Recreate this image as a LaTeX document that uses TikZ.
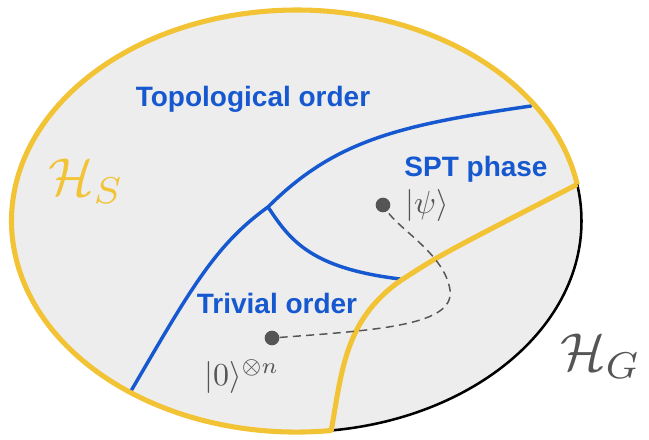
\documentclass[tikz,border=0pt]{standalone}
\usepackage{amsmath,amssymb}
\usepackage{graphicx}
\usepackage{fontspec}
\newfontfamily\labelfont{Liberation Sans}
\definecolor{phaseblue}{RGB}{22,88,208}
\definecolor{symyellow}{RGB}{242,195,52}
\definecolor{stategray}{RGB}{85,85,85}
\definecolor{hilbertfill}{RGB}{237,237,237}

\begin{document}
\begin{tikzpicture}[x=0.75pt,y=-0.75pt,
    phase/.style={text=phaseblue,anchor=base,inner sep=0pt,
      font=\labelfont\bfseries\fontsize{21}{24}\selectfont},
    boundary/.style={phaseblue,line width=2.6pt,line cap=round},
    state/.style={circle,fill=stategray,minimum size=11pt,inner sep=0pt},
    ket/.style={text=stategray,anchor=base west,inner sep=0pt},
    space/.style={anchor=base west,inner sep=0pt}]
  \useasboundingbox (0,0) rectangle (649,439);
  % the full Hilbert space H_G
  \fill[hilbertfill] (296.5,221) ellipse [x radius=285, y radius=211];
  \draw[black,line width=1.9pt] (296.5,221) ellipse [x radius=285, y radius=211];
  % phase boundaries
  \coordinate (meet) at (268,207);
  \draw[boundary] (131,391) .. controls (190,290) and (215,245) .. (meet)
    .. controls (335,140) and (400,125) .. (531,106);
  \draw[boundary] (meet) .. controls (290,240) and (310,268) .. (400,279);
  % symmetric subspace H_S
  \draw[symyellow,line width=3.8pt,line join=round]
    (577.2,184.4) arc [start angle=-10, end angle=-277, x radius=285, y radius=211]
    .. controls (342,370) and (345,320) .. (400,281)
    .. controls (440,255) .. (577.2,184.4);
  % states and the path between them
  \node[state] (zero) at (272,338) {};
  \node[state] (psi) at (383,205) {};
  \draw[stategray,line width=1.1pt,dash pattern=on 6pt off 4pt]
    (zero) .. controls (380,330) and (455,325) .. (450,290)
    .. controls (445,255) and (400,230) .. (psi);
  \node[ket] (psilabel) at (405,213) {\scalebox{2.4}{$|\psi\rangle$}};
  \node[ket] (zerolabel) at (204,385) {\scalebox{2.4}{$|0\rangle^{\otimes n}$}};
  % labels
  \node[phase] (topo) at (253,106) {Topological order};
  \node[phase] (spt) at (476,176) {SPT phase};
  \node[phase] (triv) at (277,313) {Trivial order};
  \node[space,text=symyellow] (hs) at (48,195) {\scalebox{4}{$\mathcal{H}_S$}};
  \node[space,text=stategray] (hg) at (560,370) {\scalebox{4}{$\mathcal{H}_G$}};
\end{tikzpicture}
\end{document}
